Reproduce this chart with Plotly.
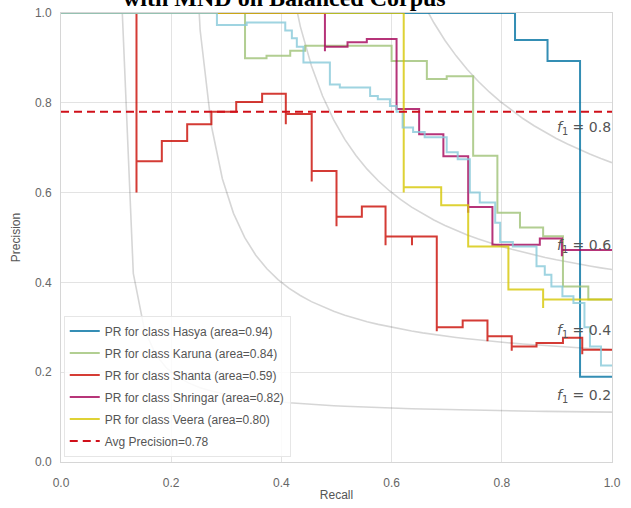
import numpy as np
import plotly.graph_objects as go

# ---------------- data ----------------
classes = ["Hasya", "Karuna", "Shanta", "Shringar", "Veera"]
areas = [0.94, 0.84, 0.59, 0.82, 0.80]
avg_precision = 0.78
iso_f1_values = [0.2, 0.4, 0.6, 0.8]
x_ticks = [0.0, 0.2, 0.4, 0.6, 0.8, 1.0]
y_ticks = [0.0, 0.2, 0.4, 0.6, 0.8, 1.0]
tick_labels = ["0.0", "0.2", "0.4", "0.6", "0.8", "1.0"]

hasya_recall = [0, 0.824, 0.883, 0.942, 1.0]
hasya_precision = [1.0, 1.0, 0.94, 0.893, 0.19]

karuna_recall = [0, 0.334, 0.373, 0.416, 0.443, 0.60, 0.664, 0.70, 0.748, 0.792, 0.833, 0.875, 0.911, 0.957, 1.0]
karuna_precision = [1.0, 1.0, 0.899, 0.905, 0.916, 0.927, 0.893, 0.853, 0.859, 0.682, 0.555, 0.522, 0.503, 0.391, 0.362]

shanta_recall = [0, 0.137, 0.137, 0.183, 0.229, 0.273, 0.318, 0.365, 0.408, 0.408, 0.455, 0.455, 0.500, 0.500,
                 0.546, 0.589, 0.589, 0.637, 0.637, 0.682, 0.682, 0.729, 0.774, 0.774, 0.818, 0.818, 0.863,
                 0.911, 0.946, 0.946, 1.0]
shanta_precision = [1.0, 1.0, 0.60, 0.67, 0.715, 0.752, 0.78, 0.802, 0.82, 0.752, 0.775, 0.625, 0.648, 0.525,
                    0.546, 0.569, 0.483, 0.502, 0.483, 0.502, 0.291, 0.30, 0.315, 0.269, 0.28, 0.248, 0.257,
                    0.265, 0.277, 0.24, 0.25]

shringar_recall = [0, 0.479, 0.479, 0.52, 0.555, 0.609, 0.650, 0.694, 0.739, 0.739, 0.783, 0.869, 0.909, 0.909, 1.0]
shringar_precision = [1.0, 1.0, 0.915, 0.925, 0.935, 0.942, 0.786, 0.73, 0.681, 0.555, 0.568, 0.484, 0.498, 0.458, 0.472]

veera_recall = [0, 0.622, 0.622, 0.69, 0.739, 0.812, 0.875, 0.875, 1.0]
veera_precision = [1.0, 1.0, 0.60, 0.612, 0.572, 0.48, 0.384, 0.343, 0.362]

micro_recall = [0, 0.283, 0.337, 0.407, 0.419, 0.428, 0.44, 0.488, 0.506, 0.561, 0.575, 0.597, 0.609, 0.62,
                0.639, 0.66, 0.70, 0.72, 0.742, 0.76, 0.788, 0.797, 0.82, 0.863, 0.878, 0.89, 0.91, 0.93,
                0.95, 0.96, 0.98, 1.0]
micro_precision = [1.0, 1.0, 0.973, 0.979, 0.961, 0.944, 0.925, 0.89, 0.841, 0.834, 0.815, 0.808, 0.793, 0.78,
                   0.745, 0.735, 0.723, 0.69, 0.674, 0.60, 0.578, 0.533, 0.49, 0.48, 0.436, 0.417, 0.391, 0.369,
                   0.354, 0.30, 0.257, 0.215]

colors = ["#0272a2", "#9fc377", "#ca0b03", "#a50258", "#d7c703"]
micro_color = "#88cada"

curves = [
    (hasya_recall, hasya_precision),
    (karuna_recall, karuna_precision),
    (shanta_recall, shanta_precision),
    (shringar_recall, shringar_precision),
    (veera_recall, veera_precision),
]

fig = go.Figure()

# iso-F1 curves
for f1 in iso_f1_values:
    x = np.linspace(0.01, 1)
    y = f1 * x / (2 * x - f1)
    m = y >= 0
    fig.add_trace(go.Scatter(x=x[m], y=y[m], mode="lines", showlegend=False, hoverinfo="skip",
                             line=dict(color="rgba(51,51,51,0.2)", width=1.6)))
    fig.add_annotation(x=0.9, y=y[45] + 0.02, xref="x", yref="y", xanchor="left", yanchor="bottom",
                       yshift=-4, xshift=-2, showarrow=False,
                       text="<i>f</i><sub>1</sub> = {:0.1f}".format(f1),
                       font=dict(family="DejaVu Sans", size=14, color="#555555"))

for i, (cls, area, col, (rec, prec)) in enumerate(zip(classes, areas, colors, curves)):
    fig.add_trace(go.Scatter(x=rec, y=prec, mode="lines", line_shape="vh",
                             name="PR for class {} (area={:0.2f})".format(cls, area),
                             legendgroup="g%d" % i, opacity=0.8,
                             line=dict(color=col, width=2)))

fig.add_trace(go.Scatter(x=micro_recall, y=micro_precision, mode="lines", line_shape="vh",
                         showlegend=False, opacity=0.8, line=dict(color=micro_color, width=2)))

fig.add_trace(go.Scatter(x=[0, 1], y=[avg_precision, avg_precision], mode="lines",
                         name="Avg Precision={:0.2f}".format(avg_precision), legendgroup="g9",
                         line=dict(color="#d0101a", width=2, dash="8px,5px")))

fig.add_annotation(x=0.405, y=1.0, xref="paper", yref="paper", xanchor="center", yanchor="bottom",
                   yshift=0, showarrow=False, text="<b>with MND on Balanced Corpus</b>",
                   font=dict(family="Liberation Serif", size=24, color="#000000"))

axis_common = dict(range=[0, 1], tickvals=x_ticks, ticktext=tick_labels, showgrid=True,
                   gridcolor="#e3e3e3", gridwidth=1, showline=True, linecolor="#d6d6d6", linewidth=1,
                   mirror=True, zeroline=False, ticks="outside", tickcolor="rgba(0,0,0,0)",
                   automargin=False,
                   tickfont=dict(family="Liberation Sans", size=12, color="#666666"))

fig.update_layout(
    width=631, height=508,
    margin=dict(l=61, r=19, t=13, b=46, pad=0),
    paper_bgcolor="white", plot_bgcolor="white",
    xaxis=dict(**axis_common, ticklen=10,
               title=dict(text="Recall", standoff=1,
                          font=dict(family="Liberation Sans", size=12, color="#555555"))),
    yaxis=dict(**axis_common, ticklen=6,
               title=dict(text="Precision", standoff=11,
                          font=dict(family="Liberation Sans", size=12, color="#555555"))),
    legend=dict(x=0.005, y=0.012, xanchor="left", yanchor="bottom", bgcolor="rgba(255,255,255,0.85)",
                bordercolor="#e6e6e6", borderwidth=1, tracegroupgap=3,
                font=dict(family="Liberation Sans", size=12, color="#555555")),
    showlegend=True,
)

fig.write_html("out.html", post_script="document.body.style.margin='0px';",
               config={"displayModeBar": False})
